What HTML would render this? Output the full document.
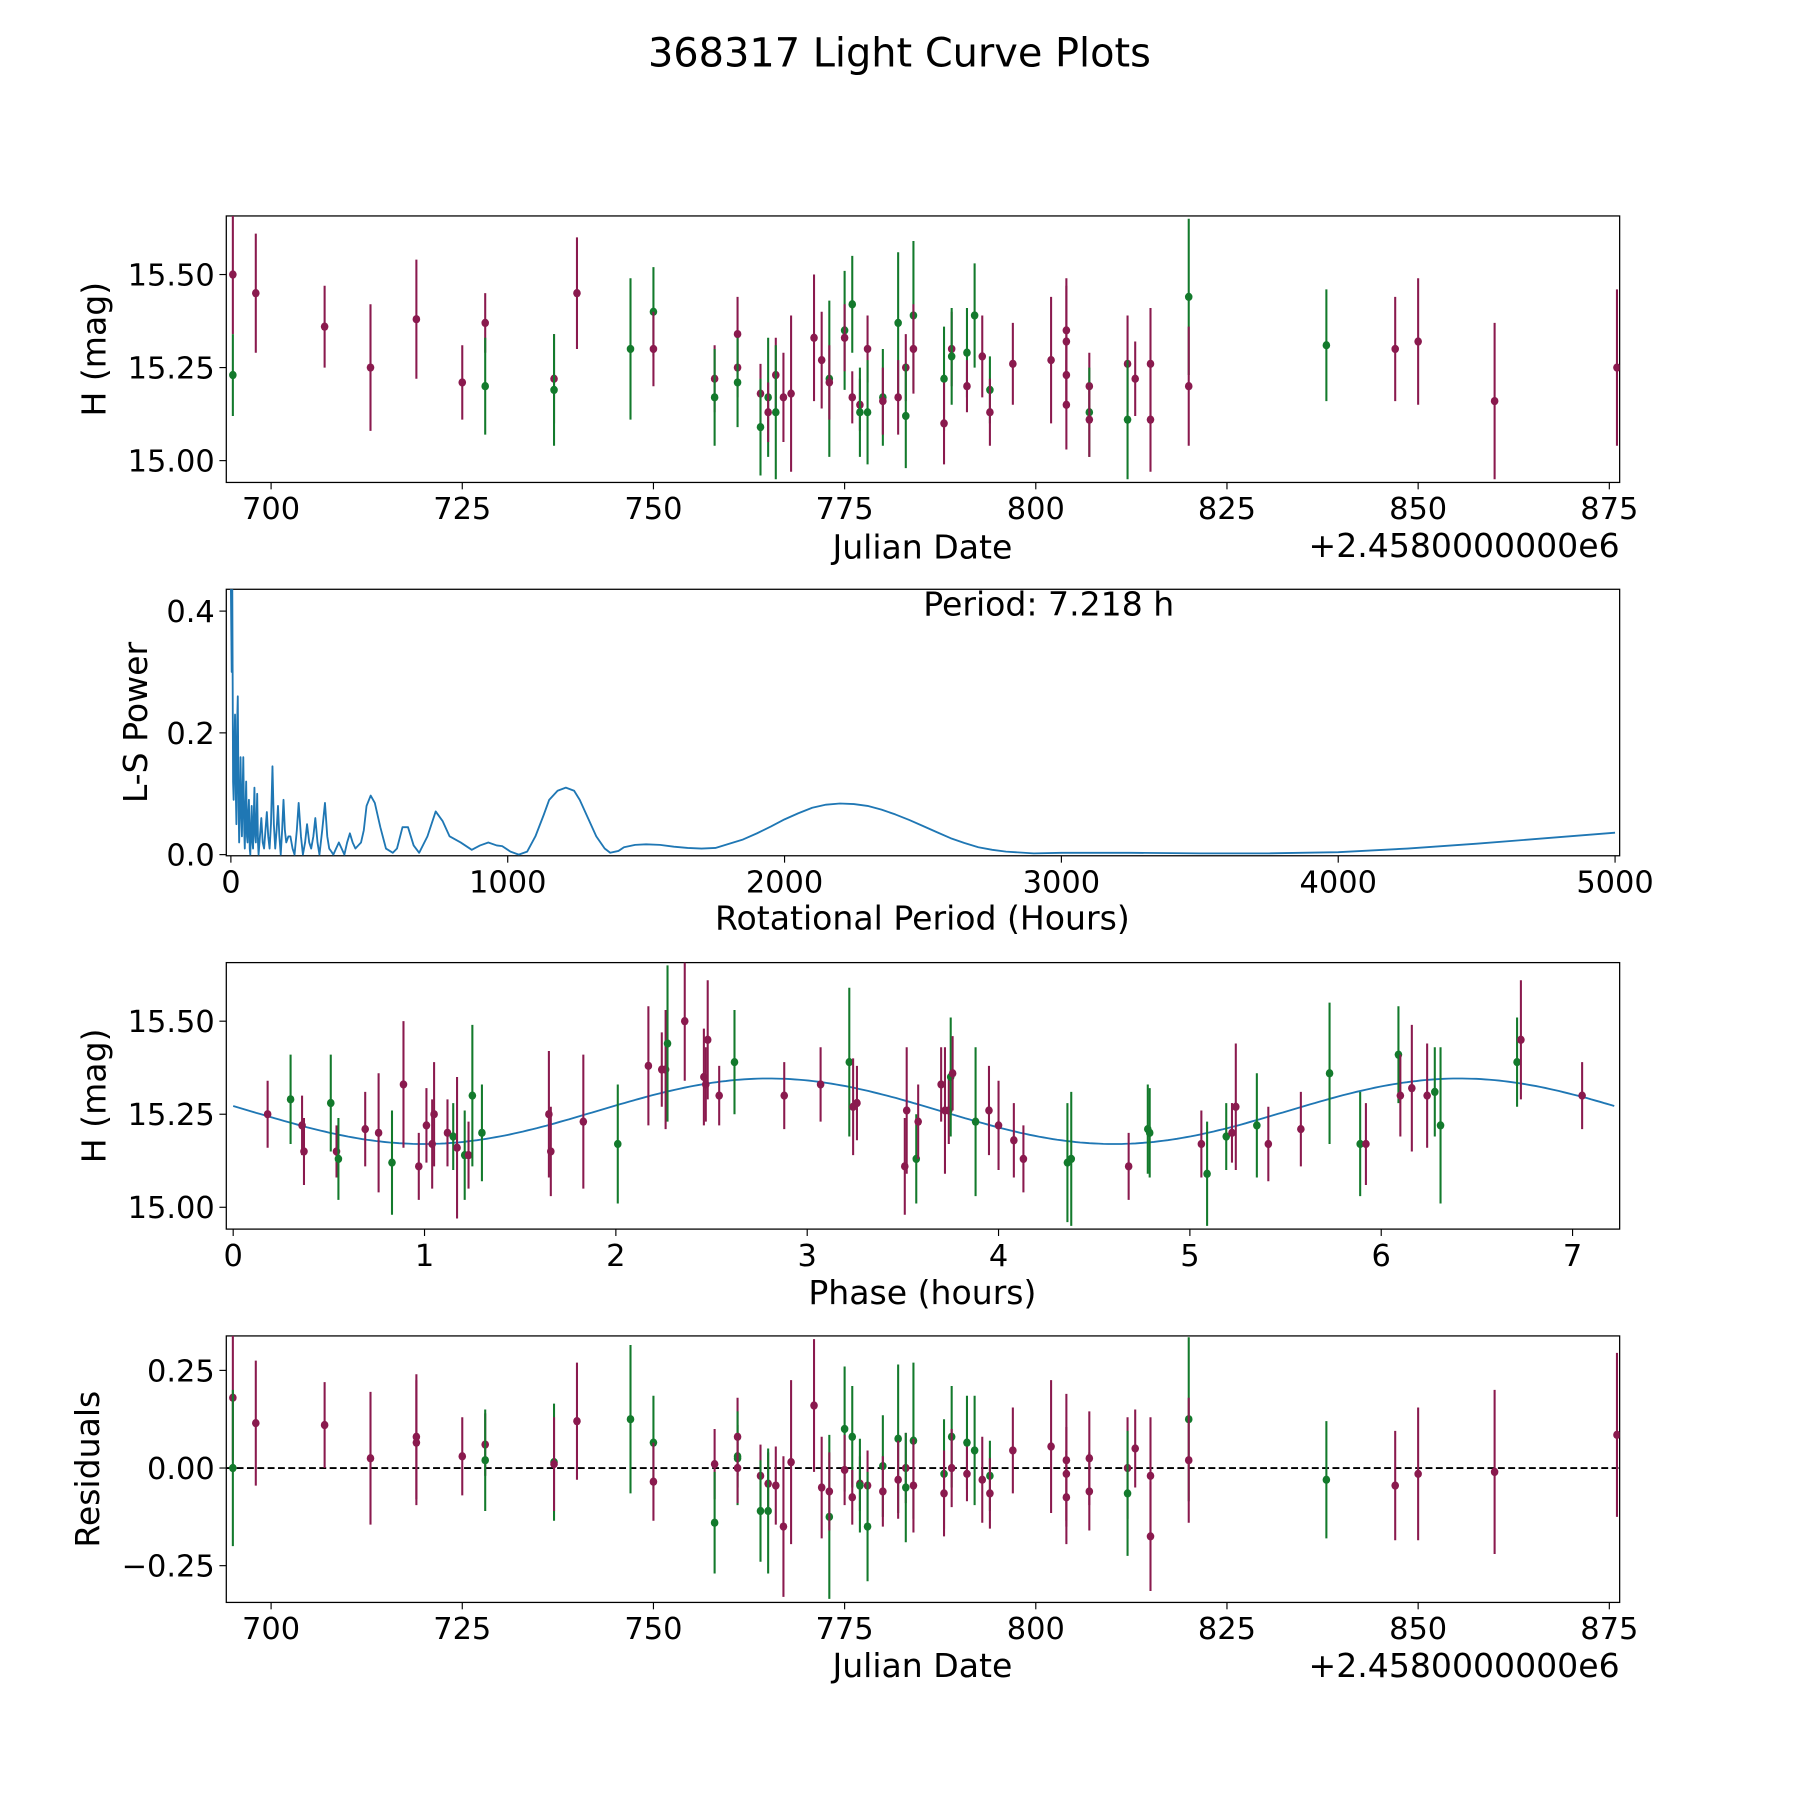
<!DOCTYPE html>
<html><head><meta charset="utf-8"><style>
html,body{margin:0;padding:0;background:#fff;}
svg{display:block;font-family:"DejaVu Sans","Liberation Sans",sans-serif;}
</style></head><body>
<svg id="fig" xmlns="http://www.w3.org/2000/svg" width="1800" height="1800" viewBox="0 0 1567 1567">
<rect width="1567" height="1567" fill="#fff"/>
<text x="783" y="58" font-size="34.7" text-anchor="middle">368317 Light Curve Plots</text>
<defs>
<clipPath id="c1"><rect x="197" y="188" width="1213" height="232"/></clipPath>
<clipPath id="c2"><rect x="197" y="513" width="1213" height="232"/></clipPath>
<clipPath id="c3"><rect x="197" y="838" width="1213" height="232"/></clipPath>
<clipPath id="c4"><rect x="197" y="1163" width="1213" height="232"/></clipPath>
</defs>
<g id="g1"></g>
<g id="g2"></g>
<g id="g3"></g>
<g id="g4"></g>
</svg>
<script>
// ---- Panel 1: light curve ----
const lcDate=[695,695,698,707,713,719,725,728,728,737,737,740,747,750,750,758,758,761,761,761,764,764,765,765,766,766,767,768,771,772,773,773,775,775,776,776,777,777,778,778,780,780,782,782,783,783,784,784,788,788,789,789,791,791,792,793,794,794,797,802,804,804,804,804,807,807,807,812,812,813,815,815,820,820,838,847,850,860,876];
const lcMag=[15.50,15.23,15.45,15.36,15.25,15.38,15.21,15.37,15.20,15.22,15.19,15.45,15.30,15.40,15.30,15.22,15.17,15.34,15.25,15.21,15.18,15.09,15.17,15.13,15.23,15.13,15.17,15.18,15.33,15.27,15.22,15.21,15.35,15.33,15.42,15.17,15.15,15.13,15.30,15.13,15.17,15.16,15.37,15.17,15.25,15.12,15.39,15.30,15.22,15.10,15.30,15.28,15.29,15.20,15.39,15.28,15.19,15.13,15.26,15.27,15.35,15.32,15.23,15.15,15.20,15.13,15.11,15.26,15.11,15.22,15.26,15.11,15.44,15.20,15.31,15.30,15.32,15.16,15.25];
const lcErr=[0.16,0.11,0.16,0.11,0.17,0.16,0.10,0.08,0.13,0.12,0.15,0.15,0.19,0.12,0.10,0.09,0.13,0.10,0.08,0.12,0.08,0.13,0.16,0.08,0.10,0.18,0.12,0.21,0.17,0.13,0.21,0.10,0.16,0.09,0.13,0.07,0.07,0.12,0.09,0.14,0.13,0.09,0.19,0.10,0.09,0.14,0.20,0.12,0.14,0.11,0.10,0.13,0.12,0.07,0.14,0.11,0.09,0.09,0.11,0.17,0.12,0.17,0.09,0.12,0.09,0.12,0.10,0.13,0.16,0.10,0.15,0.14,0.21,0.16,0.15,0.14,0.17,0.21,0.21];
const lcBand="MGMMMMMMGMGMGGMMGMMGMGGMMGMMMMGMGMGMMGMGGMGMMGGMGMMGGMGMGMMMMMMMMGMMGMMMGMGMMMM";
// ---- Panel 2: periodogram ----
const lsPeriod=[0,3,5,8,10,13,15,18,20,23,25,28,30,33,35,38,40,43,45,48,50,53,55,58,60,63,65,68,70,73,75,78,80,83,85,88,90,93,95,98,100,105,110,115,120,125,130,135,140,145,150,155,160,165,170,175,180,185,190,195,200,208,215,223,230,238,245,253,260,268,275,283,290,298,305,313,320,330,340,348,355,363,370,380,390,400,410,420,430,440,450,460,470,480,490,505,520,540,560,585,600,620,640,660,680,710,740,765,790,830,870,900,930,960,980,1010,1040,1070,1100,1130,1150,1180,1210,1240,1260,1290,1320,1350,1370,1400,1420,1460,1500,1550,1600,1650,1700,1750,1800,1850,1900,1950,2000,2050,2100,2150,2200,2250,2300,2350,2400,2450,2500,2550,2600,2650,2700,2750,2800,2900,3000,3250,3500,3750,4000,4250,4500,4750,5000];
const lsPower=[0.44,0.30,0.45,0.12,0.09,0.18,0.23,0.10,0.05,0.22,0.26,0.08,0.02,0.10,0.16,0.06,0.03,0.12,0.16,0.04,0.01,0.08,0.12,0.03,0.02,0.07,0.09,0.01,0.00,0.05,0.08,0.02,0.01,0.07,0.11,0.03,0.02,0.06,0.10,0.02,0.00,0.03,0.06,0.02,0.01,0.04,0.07,0.03,0.01,0.05,0.145,0.05,0.01,0.04,0.08,0.03,0.00,0.04,0.09,0.04,0.02,0.03,0.03,0.01,0.00,0.04,0.085,0.03,0.00,0.02,0.05,0.02,0.01,0.03,0.06,0.02,0.00,0.04,0.085,0.03,0.01,0.005,0.00,0.01,0.02,0.01,0.00,0.02,0.035,0.02,0.01,0.015,0.02,0.04,0.08,0.097,0.085,0.045,0.01,0.003,0.01,0.045,0.045,0.015,0.003,0.03,0.071,0.055,0.03,0.02,0.008,0.015,0.02,0.015,0.014,0.005,0.0,0.005,0.03,0.065,0.09,0.105,0.11,0.105,0.09,0.06,0.03,0.01,0.003,0.006,0.012,0.016,0.017,0.016,0.013,0.011,0.01,0.011,0.018,0.025,0.035,0.046,0.058,0.068,0.077,0.082,0.084,0.083,0.08,0.074,0.066,0.057,0.047,0.037,0.027,0.019,0.012,0.008,0.005,0.002,0.003,0.003,0.002,0.002,0.004,0.01,0.018,0.027,0.036];
// ---- Panel 3: phased ----
const phPhase=[0.18,0.30,0.36,0.37,0.51,0.54,0.55,0.69,0.76,0.83,0.89,0.97,1.01,1.04,1.05,1.12,1.15,1.17,1.21,1.23,1.25,1.30,1.65,1.66,1.83,2.01,2.17,2.24,2.26,2.27,2.36,2.46,2.47,2.48,2.54,2.62,2.88,3.07,3.22,3.24,3.26,3.51,3.52,3.57,3.58,3.70,3.72,3.74,3.75,3.76,3.88,3.95,4.00,4.08,4.13,4.36,4.38,4.68,4.78,4.79,5.06,5.09,5.19,5.22,5.24,5.35,5.41,5.58,5.73,5.89,5.92,6.09,6.10,6.16,6.24,6.28,6.31,6.71,6.73,7.05];
const phMag=[15.25,15.29,15.22,15.15,15.28,15.15,15.13,15.21,15.20,15.12,15.33,15.11,15.22,15.17,15.25,15.20,15.19,15.16,15.14,15.14,15.30,15.20,15.25,15.15,15.23,15.17,15.38,15.37,15.37,15.44,15.50,15.35,15.33,15.45,15.30,15.39,15.30,15.33,15.39,15.27,15.28,15.11,15.26,15.13,15.23,15.33,15.26,15.26,15.35,15.36,15.23,15.26,15.22,15.18,15.13,15.12,15.13,15.11,15.21,15.20,15.17,15.09,15.19,15.20,15.27,15.22,15.17,15.21,15.36,15.17,15.17,15.41,15.30,15.32,15.30,15.31,15.22,15.39,15.45,15.30];
const phErr=[0.09,0.12,0.08,0.09,0.13,0.07,0.11,0.10,0.16,0.14,0.17,0.09,0.10,0.12,0.14,0.09,0.09,0.19,0.12,0.09,0.19,0.13,0.17,0.12,0.18,0.16,0.16,0.10,0.16,0.21,0.16,0.13,0.10,0.16,0.08,0.14,0.09,0.10,0.20,0.13,0.10,0.13,0.17,0.12,0.10,0.10,0.17,0.09,0.16,0.10,0.20,0.12,0.12,0.10,0.09,0.16,0.18,0.09,0.12,0.12,0.09,0.14,0.09,0.08,0.17,0.14,0.10,0.10,0.19,0.14,0.11,0.13,0.11,0.17,0.14,0.12,0.21,0.12,0.16,0.09];
const phBand="MGMMGMGMMGMMMMMMGMGMGGMMMGMMMGMMMMMGMMGMMMMGMMMMGMGMMMMGGMGGMGGMMGMMGGMGMMMGGGMM";
const modelMean=15.258, modelAmp=0.088, modelPeak=2.8, modelHalfPeriod=3.609, period=7.218;
// ---- Panel 4: residuals ----
const resDate=[695,695,698,707,713,719,719,725,728,728,737,737,740,747,750,750,758,758,761,761,761,761,764,764,765,765,766,767,768,771,772,773,773,775,775,776,776,777,777,778,778,780,780,782,782,783,783,784,784,788,788,789,789,791,791,792,793,794,794,797,802,804,804,804,807,807,812,812,813,815,815,820,820,838,847,850,860,876];
const resVal=[0.18,0.00,0.115,0.11,0.025,0.08,0.065,0.03,0.06,0.02,0.015,0.01,0.12,0.125,0.065,-0.035,0.01,-0.14,0.08,0.03,0.025,0.0,-0.02,-0.11,-0.04,-0.11,-0.045,-0.15,0.015,0.16,-0.05,-0.125,-0.06,0.10,-0.005,0.08,-0.075,-0.04,-0.045,-0.045,-0.15,0.005,-0.06,0.075,-0.03,0.0,-0.05,0.07,-0.045,-0.015,-0.065,0.08,0.0,0.065,-0.015,0.045,-0.03,-0.02,-0.065,0.045,0.055,0.02,-0.015,-0.075,0.025,-0.06,0.0,-0.065,0.05,-0.02,-0.175,0.125,0.02,-0.03,-0.045,-0.015,-0.01,0.085];
const resErr=[0.16,0.20,0.16,0.11,0.17,0.16,0.16,0.10,0.08,0.13,0.15,0.12,0.15,0.19,0.12,0.10,0.09,0.13,0.10,0.08,0.12,0.09,0.08,0.13,0.08,0.16,0.10,0.18,0.21,0.17,0.13,0.21,0.10,0.16,0.09,0.13,0.07,0.07,0.12,0.09,0.14,0.13,0.09,0.19,0.10,0.09,0.14,0.20,0.12,0.14,0.11,0.13,0.10,0.12,0.07,0.14,0.11,0.09,0.09,0.11,0.17,0.17,0.12,0.12,0.12,0.10,0.13,0.16,0.10,0.15,0.14,0.21,0.16,0.15,0.14,0.17,0.21,0.21];
const resBand="MGMMMMMMMGGMMGGMMGMGGMMGMGMMMMMGMGMGMMGMGGMGMMGGMGMGMGMGMGMMMMMMMMMGMMMGMGMMMM";

const NS="http://www.w3.org/2000/svg";
const COL={M:"#8a1a4e",G:"#137a2c"};
const TFS=26.5, LFS=28.8;
function mk(parent,tag,attrs){const e=document.createElementNS(NS,tag);for(const k in attrs)e.setAttribute(k,attrs[k]);parent.appendChild(e);return e;}
function lin(d0,d1,p0,p1){return v=>p0+(v-d0)*(p1-p0)/(d1-d0);}
function frame(g,y0,clip){
  const r=mk(g,'rect',{x:197,y:y0,width:1213,height:232,fill:'none',stroke:'#000','stroke-width':1.1});
  
  
  const pg=mk(g,'g',{'clip-path':'url(#'+clip+')'});
  
  
  return pg;
}
function xticks(g,vals,labels,sx,yb){
  vals.forEach((v,i)=>{const x=sx(v);
    const t=mk(g,'line',{x1:x,x2:x,y1:yb,y2:yb+6,stroke:'#000','stroke-width':1});
    
    
    const l=mk(g,'text',{x:x,y:yb+32,'font-size':TFS,'text-anchor':'middle'});l.textContent=labels[i];
    
    });
}
function yticks(g,vals,labels,sy){
  vals.forEach((v,i)=>{const y=sy(v);
    const t=mk(g,'line',{x1:191,x2:197,y1:y,y2:y,stroke:'#000','stroke-width':1});
    
    
    const l=mk(g,'text',{x:187,y:y+9.5,'font-size':TFS,'text-anchor':'end'});l.textContent=labels[i];
    
    });
}
function label(g,txt,x,y,rot,name){
  const l=mk(g,'text',{x:x,y:y,'font-size':LFS,'text-anchor':'middle'});
  if(rot)l.setAttribute('transform','rotate(-90 '+x+' '+y+')');
  l.textContent=txt;
  
  
}
function errpts(pg,xs,ys,es,bands,sx,sy,name){
  xs.forEach((xv,i)=>{const x=sx(xv),c=COL[bands[i]];
    const b=mk(pg,'line',{x1:x,x2:x,y1:sy(ys[i]+es[i]),y2:sy(ys[i]-es[i]),stroke:c,'stroke-width':1.8});
    
    
    const p=mk(pg,'ellipse',{cx:x,cy:sy(ys[i]),rx:3.3,ry:3.6,fill:c});
    
    });
}
const jdTicks=[700,725,750,775,800,825,850,875];
// Panel 1
(function(){const g=document.getElementById('g1');
 const sx=lin(700,875,236,1401), sy=lin(15,15.5,401,239);
 const pg=frame(g,188,'c1');
 errpts(pg,lcDate,lcMag,lcErr,lcBand,sx,sy,'light-curve');
 xticks(g,jdTicks,jdTicks.map(String),sx,420);
 yticks(g,[15,15.25,15.5],['15.00','15.25','15.50'],sy);
 label(g,'Julian Date',803,486,false,'x-axis-title');
 const o=mk(g,'text',{x:1410,y:485,'font-size':LFS,'text-anchor':'end'});o.textContent='+2.4580000000e6';
 
 
 label(g,'H (mag)',92,304,true,'y-axis-title');
})();
// Panel 2
(function(){const g=document.getElementById('g2');
 const sx=lin(0,5000,201,1406), sy=lin(0,0.4,744,532);
 const pg=frame(g,513,'c2');
 const pts=lsPeriod.map((p,i)=>sx(p).toFixed(1)+','+sy(lsPower[i]).toFixed(1)).join(' ');
 const l=mk(pg,'polyline',{points:pts,fill:'none',stroke:'#1f77b4','stroke-width':1.6,'stroke-linejoin':'round'});
 
 
 xticks(g,[0,1000,2000,3000,4000,5000],['0','1000','2000','3000','4000','5000'],sx,745);
 yticks(g,[0,0.2,0.4],['0.0','0.2','0.4'],sy);
 label(g,'Rotational Period (Hours)',803,809,false,'x-axis-title');
 label(g,'L-S Power',128,629,true,'y-axis-title');
 const t=mk(g,'text',{x:913,y:536,'font-size':LFS,'text-anchor':'middle'});t.textContent='Period: 7.218 h';
 
 
})();
// Panel 3
(function(){const g=document.getElementById('g3');
 const sx=lin(0,7,203,1369), sy=lin(15,15.5,1051,889);
 const pg=frame(g,838,'c3');
 const N=300;let pts=[];
 for(let k=0;k<=N;k++){const t=period*k/N;const m=modelMean+modelAmp*Math.cos(2*Math.PI*(t-modelPeak)/modelHalfPeriod);pts.push(sx(t).toFixed(1)+','+sy(m).toFixed(1));}
 const l=mk(pg,'polyline',{points:pts.join(' '),fill:'none',stroke:'#1f77b4','stroke-width':1.6});
 
 
 errpts(pg,phPhase,phMag,phErr,phBand,sx,sy,'phased');
 xticks(g,[0,1,2,3,4,5,6,7],['0','1','2','3','4','5','6','7'],sx,1070);
 yticks(g,[15,15.25,15.5],['15.00','15.25','15.50'],sy);
 label(g,'Phase (hours)',803,1135,false,'x-axis-title');
 label(g,'H (mag)',92,954,true,'y-axis-title');
})();
// Panel 4
(function(){const g=document.getElementById('g4');
 const sx=lin(700,875,236,1401), sy=lin(0,0.25,1278,1193);
 const pg=frame(g,1163,'c4');
 const z=mk(pg,'line',{x1:197,x2:1410,y1:sy(0),y2:sy(0),stroke:'#000','stroke-width':1.6,'stroke-dasharray':'6,3'});
 
 
 errpts(pg,resDate,resVal,resErr,resBand,sx,sy,'residual');
 xticks(g,jdTicks,jdTicks.map(String),sx,1395);
 yticks(g,[-0.25,0,0.25],['\u22120.25','0.00','0.25'],sy);
 label(g,'Julian Date',803,1460,false,'x-axis-title');
 const o=mk(g,'text',{x:1410,y:1460,'font-size':LFS,'text-anchor':'end'});o.textContent='+2.4580000000e6';
 
 
 label(g,'Residuals',86,1279,true,'y-axis-title');
})();
</script>
</body></html>
